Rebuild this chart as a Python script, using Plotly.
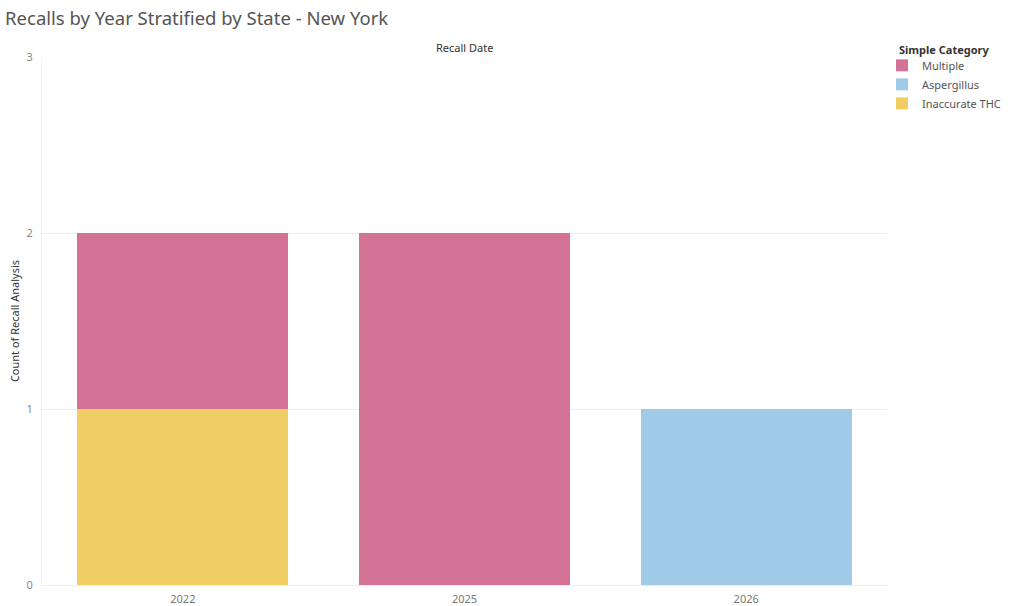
import plotly.graph_objects as go

years = ["2022", "2025", "2026"]
multiple = [1, 2, None]
aspergillus = [None, None, 1]
inaccurate_thc = [1, None, None]
y_ticks = [0, 1, 2, 3]

colors = {"Multiple": "#D37295", "Aspergillus": "#A0CBE8", "Inaccurate THC": "#F1CE63"}

fig = go.Figure()
series = [("Inaccurate THC", inaccurate_thc, 3), ("Aspergillus", aspergillus, 2), ("Multiple", multiple, 1)]
for name, vals, rank in series:
    fig.add_trace(go.Bar(
        x=years, y=vals, name=name, marker_color=colors[name],
        marker_line_width=0, legendrank=rank, width=0.75,
        hovertemplate="%{x}<br>" + name + ": %{y}<extra></extra>",
    ))

font_family = "Noto Sans, Open Sans, sans-serif"
fig.update_layout(
    barmode="stack",
    width=1024, height=606,
    paper_bgcolor="white", plot_bgcolor="white",
    margin=dict(l=42, r=137, t=57, b=21, autoexpand=False),
    font=dict(family=font_family, size=11, color="#666"),
    title=dict(text="Recalls by Year Stratified by State - New York", x=0.005, xanchor="left",
               y=0.97, yanchor="middle", yref="container",
               font=dict(size=18.5, color="#555", family=font_family)),
    showlegend=True,
    legend=dict(x=(882 - 42) / 845, xanchor="left", y=1.0116, yanchor="top", traceorder="normal",
                font=dict(size=11, color="#555"), tracegroupgap=0, itemwidth=30),
    bargap=0.25,
)
fig.update_xaxes(
    type="category", showgrid=False, showline=True, linecolor="#eeeeee", linewidth=1,
    ticks="", tickfont=dict(size=11, color="#777"), ticklabelstandoff=4,
)
fig.update_yaxes(
    range=[0, 3], tickvals=y_ticks, showgrid=True, gridcolor="#f0f0f0", gridwidth=1,
    zeroline=False, showline=True, linecolor="#f3f3f3",
    ticks="", tickfont=dict(size=11, color="#888"), ticklabelstandoff=6,
    title=dict(text="Count of Recall Analysis", font=dict(size=11, color="#333"), standoff=4),
)
fig.add_annotation(text="Recall Date", xref="paper", yref="paper", x=0.5, y=1.0, yshift=19,
                   showarrow=False, font=dict(size=11, color="#333"))
fig.add_annotation(text="<b>Simple Category</b>", xref="paper", yref="paper",
                   x=(897 - 42) / 845, xanchor="left", y=1.0, yshift=17,
                   showarrow=False, font=dict(size=11, color="#333"))

fig.write_html("out.html", config={"displayModeBar": False},
               post_script="document.body.style.margin='0';")
